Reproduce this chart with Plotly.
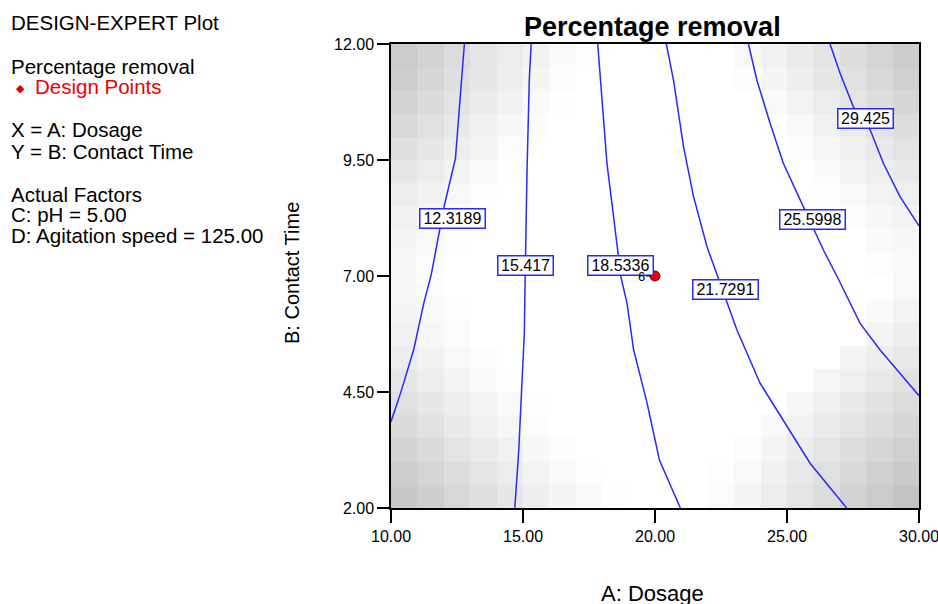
import plotly.graph_objects as go

# ---------------- data ----------------
dosage_ticks = [10, 15, 20, 25, 30]
dosage_tick_labels = ["10.00", "15.00", "20.00", "25.00", "30.00"]
time_ticks = [2, 4.5, 7, 9.5, 12]
time_tick_labels = ["2.00", "4.50", "7.00", "9.50", "12.00"]

contour_levels = ["12.3189", "15.417", "18.5336", "21.7291", "25.5998", "29.425"]

c1_x = [12.78, 12.62, 12.44, 12.02, 11.52, 11.24, 10.86, 10.36, 10.00]
c1_y = [12.00, 10.80, 9.53, 8.52, 7.02, 6.41, 5.41, 4.47, 3.86]
c2_x = [15.31, 15.24, 15.15, 15.12, 15.08, 15.05, 14.96, 14.84, 14.69]
c2_y = [12.00, 11.26, 9.21, 7.71, 6.90, 5.77, 4.76, 3.25, 2.00]
c3_x = [17.83, 17.93, 18.18, 18.43, 18.60, 18.71, 18.94, 19.19, 19.51, 19.70, 20.17, 20.96]
c3_y = [12.00, 11.22, 9.43, 8.28, 7.56, 6.98, 6.41, 5.41, 4.69, 4.26, 3.03, 2.00]
c4_x = [20.43, 20.70, 21.08, 21.46, 21.97, 22.41, 23.10, 23.98, 24.86, 25.88, 27.26]
c4_y = [12.00, 11.22, 9.79, 8.71, 7.63, 6.93, 5.84, 4.69, 3.90, 2.96, 2.00]
c5_x = [23.54, 23.86, 24.36, 24.86, 25.50, 26.38, 26.95, 27.77, 28.52, 29.28, 30.00]
c5_y = [12.00, 11.22, 10.29, 9.43, 8.64, 7.56, 6.93, 5.98, 5.41, 4.90, 4.42]
c6_x = [26.63, 27.01, 27.51, 28.15, 28.65, 29.28, 30.00]
c6_y = [12.00, 11.37, 10.65, 10.15, 9.43, 8.71, 8.08]

label_x = [12.32, 15.08, 18.70, 22.66, 25.97, 27.96]
label_y = [8.24, 7.22, 7.22, 6.70, 8.22, 10.39]

design_x = [20.0]
design_y = [7.0]
design_count = ["6"]

# background shading cells (gray intensity, 255 = white), rows from top (B = 11.75) to bottom (B = 2.25)
cell_x = [10.5, 11.5, 12.5, 13.5, 14.5, 15.5, 16.5, 17.5, 18.5, 19.5,
          20.5, 21.5, 22.5, 23.5, 24.5, 25.5, 26.5, 27.5, 28.5, 29.5]
cell_y_top_down = [11.75, 11.25, 10.75, 10.25, 9.75, 9.25, 8.75, 8.25, 7.75, 7.25,
                   6.75, 6.25, 5.75, 5.25, 4.75, 4.25, 3.75, 3.25, 2.75, 2.25]
shade_rows = [
    [203, 211, 220, 229, 236, 242, 249, 254, 255, 255, 255, 255, 255, 248, 242, 235, 228, 221, 213, 205],
    [206, 214, 223, 231, 238, 245, 251, 255, 255, 255, 255, 255, 255, 252, 245, 238, 231, 224, 216, 208],
    [211, 219, 227, 235, 242, 249, 254, 255, 255, 255, 255, 255, 255, 255, 250, 243, 236, 229, 221, 214],
    [216, 224, 232, 240, 247, 252, 255, 255, 255, 255, 255, 255, 255, 255, 254, 248, 241, 234, 227, 221],
    [223, 230, 238, 245, 251, 255, 255, 255, 255, 255, 255, 255, 255, 255, 255, 252, 246, 239, 233, 227],
    [230, 236, 243, 249, 254, 255, 255, 255, 255, 255, 255, 255, 255, 255, 255, 255, 250, 244, 238, 233],
    [236, 242, 248, 253, 255, 255, 255, 255, 255, 255, 255, 255, 255, 255, 255, 255, 254, 248, 243, 239],
    [241, 246, 251, 255, 255, 255, 255, 255, 255, 255, 255, 255, 255, 255, 255, 255, 255, 252, 247, 244],
    [245, 249, 254, 255, 255, 255, 255, 255, 255, 255, 255, 255, 255, 255, 255, 255, 255, 255, 250, 247],
    [247, 251, 255, 255, 255, 255, 255, 255, 255, 255, 255, 255, 255, 255, 255, 255, 255, 255, 253, 249],
    [247, 251, 255, 255, 255, 255, 255, 255, 255, 255, 255, 255, 255, 255, 255, 255, 255, 255, 255, 248],
    [245, 249, 253, 255, 255, 255, 255, 255, 255, 255, 255, 255, 255, 255, 255, 255, 255, 255, 250, 243],
    [241, 246, 251, 255, 255, 255, 255, 255, 255, 255, 255, 255, 255, 255, 255, 255, 255, 255, 244, 238],
    [236, 242, 248, 252, 255, 255, 255, 255, 255, 255, 255, 255, 255, 255, 255, 255, 255, 245, 238, 232],
    [230, 237, 243, 249, 253, 255, 255, 255, 255, 255, 255, 255, 255, 255, 255, 255, 246, 239, 232, 226],
    [224, 231, 238, 245, 250, 254, 255, 255, 255, 255, 255, 255, 255, 255, 255, 246, 240, 233, 226, 220],
    [218, 225, 233, 240, 246, 251, 255, 255, 255, 255, 255, 255, 255, 255, 248, 241, 234, 227, 220, 214],
    [212, 219, 227, 234, 241, 247, 252, 255, 255, 255, 255, 255, 255, 251, 244, 236, 229, 221, 214, 208],
    [206, 213, 221, 229, 236, 243, 249, 253, 255, 255, 255, 255, 253, 248, 240, 232, 224, 216, 208, 202],
    [200, 207, 215, 223, 231, 238, 245, 250, 254, 255, 255, 255, 251, 245, 237, 229, 220, 211, 203, 195],
]

info_lines = ["DESIGN-EXPERT Plot", "Percentage removal", "Design Points",
              "X = A: Dosage", "Y = B: Contact Time", "Actual Factors",
              "C: pH = 5.00", "D: Agitation speed = 125.00"]

# ---------------- layout helpers (pixel geometry) ----------------
W, H = 938, 604
L, R, T, B = 391, 919, 44, 508
FONT = "Liberation Sans, Arial, sans-serif"
BLUE = "rgb(40,40,255)"


def px(x):
    return (x - L) / (R - L)


def py(y):
    return (B - y) / (B - T)


fig = go.Figure()

fig.add_trace(go.Heatmap(
    x=cell_x, y=cell_y_top_down[::-1], z=shade_rows[::-1],
    zmin=0, zmax=255, zsmooth=False, showscale=False,
    colorscale=[[0, "rgb(0,0,0)"], [1, "rgb(255,255,255)"]],
    hoverinfo="skip"))

for cx, cy, lev in zip([c1_x, c2_x, c3_x, c4_x, c5_x, c6_x],
                       [c1_y, c2_y, c3_y, c4_y, c5_y, c6_y], contour_levels):
    fig.add_trace(go.Scatter(x=cx, y=cy, mode="lines", name=lev,
                             line=dict(color=BLUE, width=1.5), showlegend=False))

fig.add_trace(go.Scatter(x=design_x, y=design_y, mode="markers", showlegend=False,
                         marker=dict(symbol="circle", size=10, color="rgb(235,0,0)",
                                     line=dict(color="rgb(120,0,0)", width=1))))

annotations = []
for lx, ly, lev in zip(label_x, label_y, contour_levels):
    annotations.append(dict(
        x=lx, y=ly, xref="x", yref="y", text=lev, showarrow=False,
        font=dict(family=FONT, size=16, color="black"),
        bgcolor="white", bordercolor=BLUE, borderwidth=1.5, borderpad=1,
        width=9.7 * len(lev) - 6, height=16, align="center",
        xanchor="center", yanchor="middle"))

for dx, dy, cnt in zip(design_x, design_y, design_count):
    annotations.append(dict(
        x=dx, y=dy, xref="x", yref="y", text=cnt, showarrow=True,
        arrowhead=0, arrowwidth=1, arrowcolor="black", ax=-14, ay=0, standoff=4,
        font=dict(family=FONT, size=13, color="black")))

# title
annotations.append(dict(x=px(652), y=py(27), xref="paper", yref="paper",
                        text="<b>Percentage removal</b>", showarrow=False,
                        font=dict(family=FONT, size=27, color="black"),
                        xanchor="center", yanchor="middle"))
# axis titles
annotations.append(dict(x=px(652), y=py(593), xref="paper", yref="paper",
                        text="A: Dosage", showarrow=False,
                        font=dict(family=FONT, size=22, color="black"),
                        xanchor="center", yanchor="middle"))
annotations.append(dict(x=px(292), y=py(273), xref="paper", yref="paper",
                        text="B: Contact Time", showarrow=False, textangle=-90,
                        font=dict(family=FONT, size=20, color="black"),
                        xanchor="center", yanchor="middle"))

# info text block on the left
info_y = [23, 66, 87, 130, 151, 194, 214, 235]
for txt, yy in zip(info_lines, info_y):
    red = txt == "Design Points"
    annotations.append(dict(x=px(33 if red else 9), y=py(yy), xref="paper", yref="paper",
                            text=txt, showarrow=False,
                            font=dict(family=FONT, size=20.5,
                                      color="rgb(240,0,0)" if red else "black"),
                            xanchor="left", yanchor="middle"))
annotations.append(dict(x=px(20), y=py(88), xref="paper", yref="paper",
                        text="◆", showarrow=False,
                        font=dict(family="DejaVu Sans", size=11, color="rgb(220,0,0)"),
                        xanchor="center", yanchor="middle"))

fig.update_layout(
    template="none",
    width=W, height=H, autosize=False,
    margin=dict(l=L, r=W - R, t=T, b=H - B, pad=0),
    paper_bgcolor="white", plot_bgcolor="white",
    showlegend=False,
    annotations=annotations,
    xaxis=dict(range=[10, 30], tickvals=dosage_ticks, ticktext=dosage_tick_labels,
               automargin=False,
               showgrid=False, zeroline=False, showline=True, linecolor="black",
               linewidth=1.5, mirror=True, ticks="outside", ticklen=13,
               tickcolor="black", tickwidth=1.5, ticklabeloverflow="allow",
               tickfont=dict(family=FONT, size=16, color="black")),
    yaxis=dict(range=[2, 12], tickvals=time_ticks, ticktext=time_tick_labels,
               automargin=False,
               showgrid=False, zeroline=False, showline=True, linecolor="black",
               linewidth=1.5, mirror=True, ticks="outside", ticklen=12,
               tickcolor="black", tickwidth=1.5,
               tickfont=dict(family=FONT, size=16, color="black")),
)

fig.write_html("out.html", config={"responsive": False, "displayModeBar": False},
               post_script="document.body.style.margin='0';document.body.style.overflow='hidden';")
